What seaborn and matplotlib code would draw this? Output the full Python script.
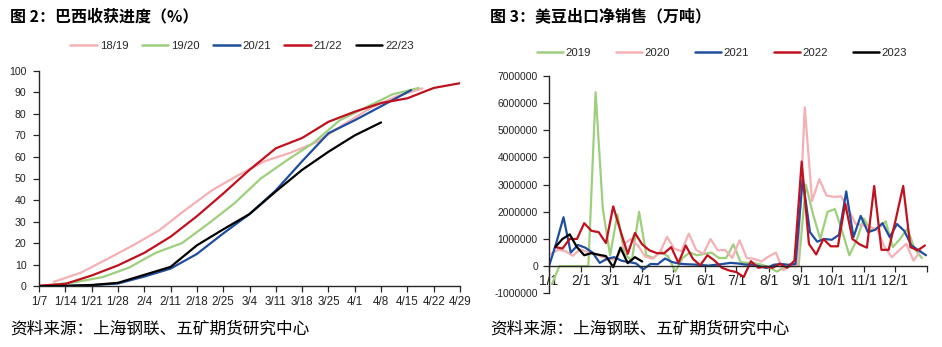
import numpy as np
import pandas as pd
import matplotlib
matplotlib.use("Agg")
import matplotlib.pyplot as plt
import seaborn as sns

# ---------------- Left chart: Brazil harvest progress (%) ----------------
season_names = ["18/19", "19/20", "20/21", "21/22", "22/23"]

dates_1819 = ["1/11", "1/18", "1/25", "2/1", "2/8", "2/15", "2/22", "3/1", "3/8",
              "3/15", "3/22", "3/29", "4/5", "4/12", "4/19"]
vals_1819 = [2.1, 6.2, 12.5, 19, 26, 35.5, 44.5, 51.5, 58, 62, 67, 75, 82.5, 88, 91.8]

dates_1920 = ["1/7", "1/17", "1/24", "1/31", "2/7", "2/14", "2/21", "2/28", "3/7",
              "3/14", "3/21", "3/28", "4/4", "4/11", "4/18"]
vals_1920 = [0, 2.0, 4.3, 8.7, 15.5, 20.0, 29, 38.5, 50, 58.5, 66.5, 77, 83, 89, 92]

dates_2021 = ["1/7", "1/14", "1/21", "1/28", "2/4", "2/11", "2/18", "2/25", "3/4",
              "3/11", "3/18", "3/25", "4/1", "4/8", "4/16"]
vals_2021 = [0, 0.2, 0.5, 1.3, 4.5, 8.2, 15, 24.5, 33.5, 44.5, 58, 71, 77, 83.5, 91]

dates_2122 = ["1/7", "1/14", "1/21", "1/28", "2/4", "2/11", "2/18", "2/25", "3/4",
              "3/11", "3/18", "3/25", "4/1", "4/8", "4/15", "4/22", "4/29"]
vals_2122 = [0.3, 1.1, 5.0, 9.7, 15.5, 23, 32.5, 43, 54, 64, 68.8, 76.3, 81, 85,
             87.2, 92, 94.2]

dates_2223 = ["1/7", "1/14", "1/21", "1/28", "2/4", "2/11", "2/18", "2/25", "3/4",
              "3/11", "3/18", "3/25", "4/1", "4/8"]
vals_2223 = [0, 0.2, 0.6, 1.6, 5.3, 9, 19, 26.4, 33.5, 44, 54, 62.4, 70, 76]

left_ticklabels = ["1/7", "1/14", "1/21", "1/28", "2/4", "2/11", "2/18", "2/25", "3/4",
                   "3/11", "3/18", "3/25", "4/1", "4/8", "4/15", "4/22", "4/29"]

# ---------------- Right chart: US soybean net export sales ----------------
year_names = ["2019", "2020", "2021", "2022", "2023"]
start_2019, start_2020, start_2021, start_2022, start_2023 = "1/4", "1/3", "1/1", "1/7", "1/7"

sales_2019 = [-0.65, 0, 0, 0, 0, 0, 6.4, 2.1, 0.4, 1.9, 0.45, 0.2, 2.0, 0.4, 0.3, 0.55,
              0.35, -0.2, 0.3, 0.5, 0.4, 0.45, 0.5, 0.3, 0.3, 0.8, 0.15, 0.12, 0.1,
              0.05, -0.05, -0.2, -0.05, 0.0, 0.0, 3.0, 1.9, 1.0, 2.0, 2.1, 1.3, 0.4,
              0.95, 1.75, 1.3, 1.4, 1.65, 0.7, 1.0, 1.38, 0.64, 0.3]
sales_2020 = [0.45, 0.6, 0.55, 0.38, 0.62, 0.52, 0.45, 0.35, 0.25, 0.25, 0.8, 1.0,
              0.75, 0.35, 0.27, 0.5, 1.08, 0.64, 0.55, 1.2, 0.6, 0.45, 1.0, 0.58, 0.6,
              0.3, 0.95, 0.3, 0.27, 0.17, 0.35, 0.5, -0.15, 0.0, 0.05, 5.85, 2.4, 3.2,
              2.6, 2.55, 2.57, 2.1, 1.56, 1.5, 1.44, 1.35, 0.7, 0.33, 0.58, 0.82,
              0.2, 0.58]
sales_2021 = [0, 0.85, 1.8, 0.5, 0.78, 0.68, 0.5, 0.12, 0.27, 0.33, 0.2, 0.15, 0.1,
              -0.12, 0.08, 0.07, 0.28, 0.15, 0.09, 0.07, 0.06, 0.04, 0.02, 0.05, 0.08,
              0.12, 0.1, 0.06, 0.05, 0.0, -0.07, 0.05, 0.08, 0.05, 0.08, 3.2, 1.25,
              0.9, 1.0, 0.97, 1.15, 2.75, 1.07, 1.85, 1.25, 1.34, 1.58, 1.07, 1.55,
              1.3, 0.76, 0.58, 0.4]
sales_2022 = [0.7, 0.65, 1.0, 1.0, 1.58, 1.3, 1.25, 0.85, 2.2, 1.3, 0.45, 1.22, 0.8,
              0.58, 0.48, 0.47, 0.7, 0.12, 0.76, 0.27, 0.03, 0.4, 0.2, -0.06, -0.16,
              -0.22, -0.4, 0.18, -0.06, -0.02, -0.06, 0.09, -0.06, 0.2, 3.85, 0.82,
              0.43, 1.0, 0.73, 0.73, 2.3, 1.0, 0.8, 0.68, 2.95, 0.6, 0.6, 1.75, 2.95,
              0.7, 0.58, 0.76]
sales_2023 = [0.7, 1.0, 1.17, 0.7, 0.4, 0.48, 0.42, 0.37, -0.04, 0.68, 0.11, 0.33, 0.17]

month_labels = ["1/1", "2/1", "3/1", "4/1", "5/1", "6/1", "7/1", "8/1", "9/1",
                "10/1", "11/1", "12/1", ""]

# ---------------- colours ----------------
colors = ["#F4B0B4", "#9DCF7C", "#1F4E9E", "#C0111F", "#000000"]

sns.set_style("ticks")
plt.rcParams["font.family"] = ["Liberation Sans", "Noto Sans CJK SC", "DejaVu Sans"]
plt.rcParams["axes.unicode_minus"] = False

def day_of(d, base="1/1"):
    t = pd.Timestamp("2023/" + d)
    b = pd.Timestamp("2023/" + base)
    return (t - b).days

rows = []
for name, ds, vs in zip(season_names,
                        [dates_1819, dates_1920, dates_2021, dates_2122, dates_2223],
                        [vals_1819, vals_1920, vals_2021, vals_2122, vals_2223]):
    for d, v in zip(ds, vs):
        rows.append({"day": day_of(d, "1/7"), "val": v, "season": name})
df_left = pd.DataFrame(rows)

rows = []
for name, st, vs in zip(year_names,
                        [start_2019, start_2020, start_2021, start_2022, start_2023],
                        [sales_2019, sales_2020, sales_2021, sales_2022, sales_2023]):
    s0 = day_of(st)
    for k, v in enumerate(vs):
        rows.append({"day": s0 + 7 * k, "val": v * 1e6, "year": name})
df_right = pd.DataFrame(rows)

W, H = 942, 347
fig = plt.figure(figsize=(W / 100, H / 100), dpi=100)

ax1 = fig.add_axes([39 / W, 1 - 286.3 / H, 421 / W, 215.6 / H])
ax2 = fig.add_axes([549 / W, 1 - 293.3 / H, 378 / W, 217.3 / H])

sns.lineplot(data=df_left, x="day", y="val", hue="season", hue_order=season_names,
             palette=colors, estimator=None, errorbar=None, linewidth=1.6, ax=ax1)
sns.lineplot(data=df_right, x="day", y="val", hue="year", hue_order=year_names,
             palette=[colors[1], colors[0], colors[2], colors[3], colors[4]],
             estimator=None, errorbar=None, linewidth=1.6, ax=ax2)

spine_col = "#262626"
# left axes styling
ax1.set_xlim(0, 112)
ax1.set_ylim(0, 100)
ax1.set_xticks(np.arange(0, 113, 7))
ax1.set_xticklabels(left_ticklabels, fontsize=8.4)
ax1.set_yticks(np.arange(0, 101, 10))
ax1.set_yticklabels([str(v) for v in range(0, 101, 10)], fontsize=7.6)
for s in ["top", "right"]:
    ax1.spines[s].set_visible(False)
for s in ["left", "bottom"]:
    ax1.spines[s].set_color(spine_col)
    ax1.spines[s].set_linewidth(1.0)
ax1.tick_params(axis="both", direction="out", length=4, width=0.9, color=spine_col,
                labelcolor="#222222")
ax1.tick_params(axis="y", pad=5)
ax1.tick_params(axis="x", pad=3)
ax1.set_xlabel("")
ax1.set_ylabel("")
h1, l1 = ax1.get_legend_handles_labels()
ax1.get_legend().remove()

# right axes styling
ax2.set_xlim(0, 365)
ax2.set_ylim(-1e6, 7e6)
ax2.set_xticks([0, 31, 59, 90, 120, 151, 181, 212, 243, 273, 304, 334, 365])
ax2.set_xticklabels(month_labels, fontsize=7.6)
yt = np.arange(-1000000, 7000001, 1000000)
ax2.set_yticks(yt)
ax2.set_yticklabels([f"{int(v)}" for v in yt], fontsize=7.4)
ax2.spines["top"].set_visible(False)
ax2.spines["right"].set_visible(False)
ax2.spines["bottom"].set_position(("data", 0))
for s in ["left", "bottom"]:
    ax2.spines[s].set_color(spine_col)
    ax2.spines[s].set_linewidth(1.0)
ax2.tick_params(axis="both", direction="out", length=4, width=0.9, color=spine_col,
                labelcolor="#222222")
ax2.tick_params(axis="y", pad=4)
ax2.tick_params(axis="x", pad=2)
ax2.set_xlabel("")
ax2.set_ylabel("")
h2, l2 = ax2.get_legend_handles_labels()
ax2.get_legend().remove()

for h in h1 + h2:
    h.set_linewidth(1.8)

fig.legend(h1, l1, loc="center", bbox_to_anchor=(242 / W, 1 - 46 / H), ncol=5,
           frameon=False, fontsize=8.2, handlelength=2.35, handletextpad=0.25,
           columnspacing=1.15, borderaxespad=0, borderpad=0)
fig.legend(h2, l2, loc="center", bbox_to_anchor=(722 / W, 1 - 53 / H), ncol=5,
           frameon=False, fontsize=8.2, handlelength=2.25, handletextpad=0.25,
           columnspacing=2.2, borderaxespad=0, borderpad=0)

# titles & sources
cjk = ["Noto Sans CJK SC", "DejaVu Sans"]
fig.text(10 / W, 1 - 16 / H, "图 2：巴西收获进度（%）", fontsize=11.5,
         fontweight="bold", va="center", ha="left", family=cjk, color="#000000")
fig.text(490 / W, 1 - 16 / H, "图 3：美豆出口净销售（万吨）", fontsize=11.5,
         fontweight="bold", va="center", ha="left", family=cjk, color="#000000")
fig.text(10 / W, 1 - 329 / H, "资料来源：上海钢联、五矿期货研究中心", fontsize=12,
         va="center", ha="left", family=cjk, color="#000000")
fig.text(490 / W, 1 - 329 / H, "资料来源：上海钢联、五矿期货研究中心", fontsize=12,
         va="center", ha="left", family=cjk, color="#000000")

fig.savefig("out.png", dpi=100, facecolor="white")
